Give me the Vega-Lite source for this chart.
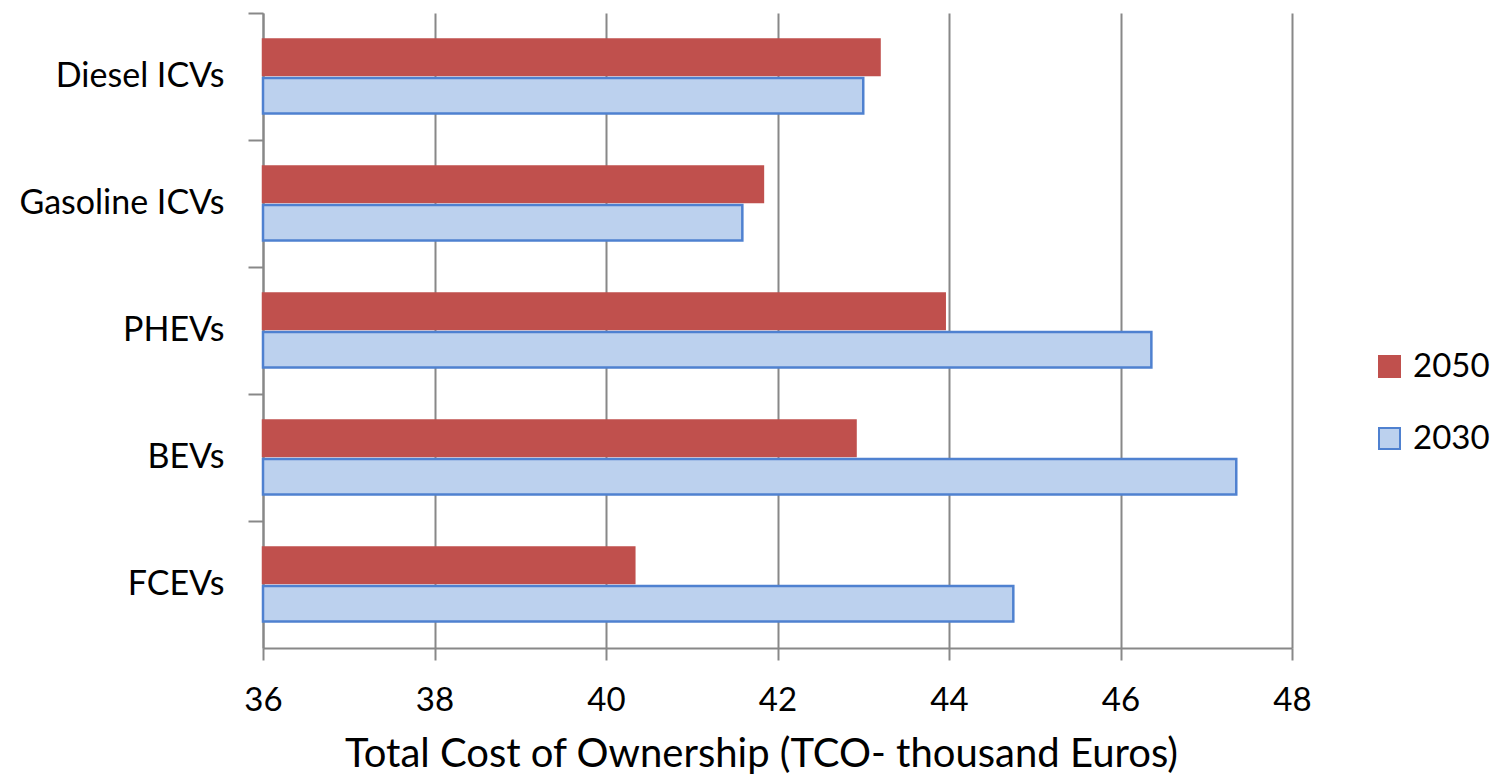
{
  "$schema": "https://vega.github.io/schema/vega-lite/v6.json",
  "autosize": {"type": "none"},
  "padding": {"left": 263, "top": 13, "right": 202, "bottom": 130},
  "width": 1029,
  "height": 635,
  "background": "white",
  "config": {
    "font": "Lato",
    "view": {"stroke": null}
  },
  "data": {
    "values": [
      {"vehicle": "Diesel ICVs", "year": "2050", "tco": 43.19},
      {"vehicle": "Diesel ICVs", "year": "2030", "tco": 43.0},
      {"vehicle": "Gasoline ICVs", "year": "2050", "tco": 41.83},
      {"vehicle": "Gasoline ICVs", "year": "2030", "tco": 41.59},
      {"vehicle": "PHEVs", "year": "2050", "tco": 43.95},
      {"vehicle": "PHEVs", "year": "2030", "tco": 46.36},
      {"vehicle": "BEVs", "year": "2050", "tco": 42.91},
      {"vehicle": "BEVs", "year": "2030", "tco": 47.35},
      {"vehicle": "FCEVs", "year": "2050", "tco": 40.33},
      {"vehicle": "FCEVs", "year": "2030", "tco": 44.75}
    ]
  },
  "mark": {"type": "bar", "strokeWidth": 2.5},
  "encoding": {
    "y": {
      "field": "vehicle",
      "type": "nominal",
      "sort": ["Diesel ICVs", "Gasoline ICVs", "PHEVs", "BEVs", "FCEVs"],
      "scale": {"paddingInner": 0, "paddingOuter": 0},
      "axis": {
        "title": null,
        "bandPosition": 0,
        "domainColor": "#888888",
        "domainWidth": 2,
        "tickColor": "#888888",
        "tickWidth": 2,
        "tickSize": 15,
        "labelPadding": 24,
        "labelFontSize": 34,
        "labelLimit": 400,
        "labelColor": "#000000",
        "labelFont": "Lato",
        "grid": false
      }
    },
    "yOffset": {
      "field": "year",
      "type": "nominal",
      "sort": ["2050", "2030"],
      "scale": {"paddingInner": 0.08, "paddingOuter": 0.685}
    },
    "x": {
      "field": "tco",
      "type": "quantitative",
      "scale": {"domain": [36, 48], "zero": false, "nice": false},
      "axis": {
        "title": "Total Cost of Ownership (TCO- thousand Euros)",
        "titleFontSize": 40,
        "titleFontWeight": "normal",
        "titleColor": "#000000",
        "titlePadding": 17,
        "titleX": 498,
        "values": [36, 38, 40, 42, 44, 46, 48],
        "labelFontSize": 33,
        "labelColor": "#000000",
        "labelPadding": 24,
        "labelFlush": false,
        "grid": true,
        "gridColor": "#888888",
        "gridWidth": 2,
        "domainColor": "#888888",
        "domainWidth": 2,
        "tickColor": "#888888",
        "tickWidth": 2,
        "tickSize": 12
      }
    },
    "x2": {"datum": 36},
    "fill": {
      "field": "year",
      "type": "nominal",
      "scale": {"domain": ["2050", "2030"], "range": ["#C0504D", "#BCD1EE"]},
      "legend": {
        "title": null,
        "orient": "none",
        "legendX": 1110,
        "legendY": 337,
        "symbolType": "square",
        "symbolSize": 441,
        "symbolStrokeWidth": 2,
        "labelFontSize": 33,
        "labelColor": "#000000",
        "labelOffset": 7,
        "rowPadding": 38
      }
    },
    "stroke": {
      "field": "year",
      "type": "nominal",
      "scale": {"domain": ["2050", "2030"], "range": ["#C0504D", "#4F81D0"]}
    }
  }
}
